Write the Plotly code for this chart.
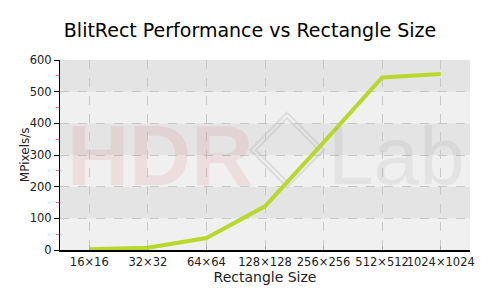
import plotly.graph_objects as go

categories = ["16×16", "32×32", "64×64", "128×128", "256×256", "512×512", "1024×1024"]
mpixels = [2, 7, 38, 138, 340, 545, 556]
y_ticks = [0, 100, 200, 300, 400, 500, 600]

fig = go.Figure()
fig.add_trace(go.Scatter(x=categories, y=mpixels, mode="lines",
                         line=dict(color="#b8d82c", width=4), showlegend=False))

shapes = []
for lo, col in [(0, "#f0f0f0"), (100, "#e4e4e4"), (200, "#f0f0f0"), (300, "#e4e4e4"), (400, "#f0f0f0"), (500, "#e4e4e4")]:
    shapes.append(dict(type="rect", xref="paper", yref="y", x0=0, x1=1, y0=lo, y1=lo + 100,
                       fillcolor=col, line=dict(width=0), layer="below"))

# faint diamond logo of the watermark
cx, cy, hw, hh = 0.554, 316, 0.09, 118
for k in (1.0, 0.85):
    p = f"M {cx - hw*k} {cy} L {cx} {cy + hh*k} L {cx + hw*k} {cy} L {cx} {cy - hh*k} Z"
    shapes.append(dict(type="path", xref="paper", yref="y", path=p,
                       line=dict(color="rgba(150,150,150,0.22)", width=2), layer="below"))

annotations = [
    dict(text="HDR", x=0.245, y=300, xref="paper", yref="y", xanchor="center", yanchor="middle",
         showarrow=False, font=dict(family="Liberation Sans", size=86, weight="bold", color="rgba(210,70,70,0.10)")),
    dict(text="Lab", x=0.82, y=300, xref="paper", yref="y", xanchor="center", yanchor="middle",
         showarrow=False, font=dict(family="Liberation Sans", size=82, color="rgba(120,120,120,0.10)")),
    dict(text="MPixels/s", x=-0.085, y=0.5, xref="paper", yref="paper", xanchor="center", yanchor="middle",
         textangle=-90, showarrow=False, font=dict(family="DejaVu Sans", size=12, color="#222")),
]

fig.update_layout(
    width=500, height=300,
    margin=dict(l=60, r=30, t=60, b=50),
    paper_bgcolor="white", plot_bgcolor="#f0f0f0",
    title=dict(text="BlitRect Performance vs Rectangle Size", x=0.5, xanchor="center", y=0.9, yanchor="middle",
               font=dict(family="DejaVu Sans", size=19, color="black")),
    font=dict(family="DejaVu Sans", size=11.5, color="#222"),
    shapes=shapes, annotations=annotations,
    xaxis=dict(title=dict(text="Rectangle Size", standoff=0), showline=True, linecolor="black", linewidth=1.5,
               showgrid=True, gridcolor="#c8c8c8", griddash="dash", gridwidth=1, tickangle=0,
               ticks="inside", ticklen=4, tickcolor="#aaa", range=[-0.5, 6.5]),
    yaxis=dict(range=[0, 600], tickvals=y_ticks,
               showline=True, linecolor="black", linewidth=1,
               showgrid=True, gridcolor="#c8c8c8", griddash="dash", gridwidth=1,
               ticks="outside", ticklen=5, tickcolor="black", zeroline=False,
               minor=dict(dtick=50, ticks="outside", ticklen=3, tickcolor="#ff6060", showgrid=False)),
)

fig.write_html("out.html")
